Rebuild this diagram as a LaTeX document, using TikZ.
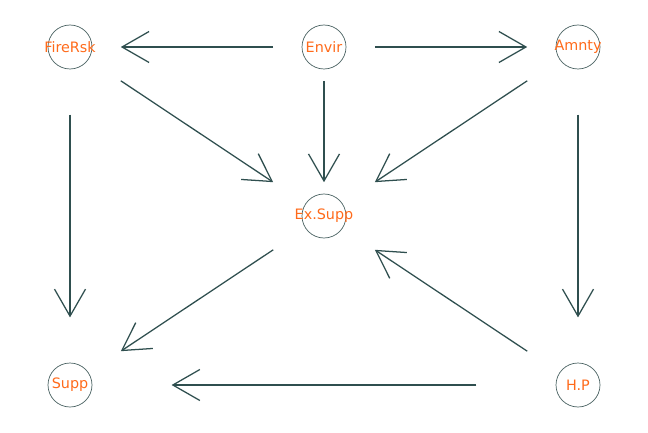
\documentclass[tikz,border=0pt]{standalone}
\usepackage{fontspec}
\setmainfont{DejaVu Sans}
\usetikzlibrary{arrows.meta,calc}
\definecolor{edgegray}{HTML}{2F4F4F}
\definecolor{circgray}{HTML}{4A6262}
\definecolor{labelorange}{HTML}{FF6A1A}
\tikzset{
  var/.style={circle, draw=circgray, line width=0.5pt, minimum size=44*0.025cm,
              inner sep=0pt, text=labelorange, font=\fontsize{10.2}{12}\selectfont},
  edge/.style={-{Straight Barb[length=27*0.025cm, width=31*0.025cm]},
               line width=0.9pt, draw=edgegray},
}
% label that may run past its circle
\newcommand{\varlbl}[1]{\makebox[0pt]{#1}}
% draw an edge over the middle 60% of the line between two nodes
\newcommand{\dagedge}[2]{\draw[edge] ($(#1)!0.2!(#2)$) -- ($(#1)!0.8!(#2)$);}

\begin{document}
\begin{tikzpicture}[x=0.025cm, y=-0.025cm]
  \useasboundingbox (0,0) rectangle (648,432);
  \node[var] (firersk) at (70,47) {\varlbl{FireRsk}};
  \node[var] (envir) at (324,47) {\varlbl{Envir}};
  \node[var] (amnty) at (578,47) {\varlbl{Amnty}};
  \node[var] (exsupp) at (324,216) {\varlbl{Ex.Supp}};
  \node[var] (supp) at (70,385) {\varlbl{Supp}};
  \node[var] (hp) at (578,385) {\varlbl{H.P}};
  \dagedge{envir}{firersk}
  \dagedge{envir}{amnty}
  \dagedge{envir}{exsupp}
  \dagedge{firersk}{exsupp}
  \dagedge{amnty}{exsupp}
  \dagedge{firersk}{supp}
  \dagedge{amnty}{hp}
  \dagedge{exsupp}{supp}
  \dagedge{hp}{exsupp}
  \dagedge{hp}{supp}
\end{tikzpicture}
\end{document}
